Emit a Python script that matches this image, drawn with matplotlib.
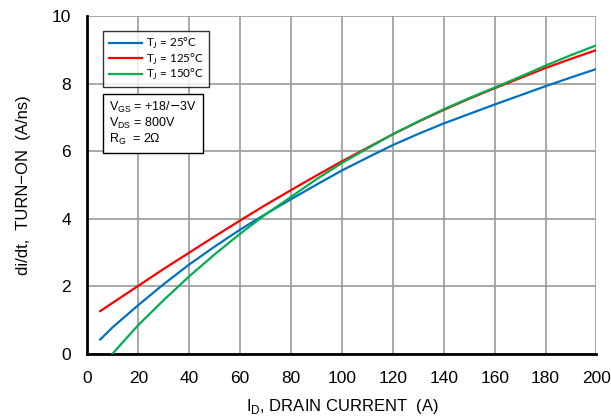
import matplotlib
matplotlib.use("Agg")
import matplotlib.pyplot as plt
from matplotlib.lines import Line2D

plt.rcParams['font.family'] = ['Liberation Sans', 'DejaVu Sans']

x_blue = [5, 10, 20, 30, 40, 50, 60, 70, 80, 90, 100, 110, 120, 130, 140, 150, 160, 170, 180, 190, 200]
y_blue = [0.43, 0.80, 1.45, 2.07, 2.65, 3.18, 3.68, 4.14, 4.58, 5.01, 5.43, 5.81, 6.18, 6.51, 6.82, 7.10, 7.38, 7.65, 7.92, 8.18, 8.43]

x_red = [5, 10, 20, 30, 40, 50, 60, 70, 80, 90, 100, 110, 120, 130, 140, 150, 160, 170, 180, 190, 200]
y_red = [1.27, 1.52, 2.02, 2.52, 3.00, 3.48, 3.95, 4.41, 4.85, 5.28, 5.70, 6.10, 6.50, 6.87, 7.22, 7.55, 7.86, 8.16, 8.46, 8.73, 8.99]

x_green = [9.7, 20, 30, 40, 50, 60, 70, 80, 90, 100, 110, 120, 130, 140, 150, 160, 170, 180, 190, 200]
y_green = [0.0, 0.86, 1.60, 2.30, 2.95, 3.56, 4.13, 4.65, 5.17, 5.65, 6.08, 6.50, 6.88, 7.24, 7.57, 7.88, 8.20, 8.53, 8.84, 9.13]

labels = ["T$_\\mathregular{J}$ = 25°C", "T$_\\mathregular{J}$ = 125°C", "T$_\\mathregular{J}$ = 150°C"]
colors = ["#0070C0", "#FF0000", "#00B050"]
xticks = [0, 20, 40, 60, 80, 100, 120, 140, 160, 180, 200]
yticks = [0, 2, 4, 6, 8, 10]

fig = plt.figure(figsize=(6.11, 4.18), dpi=100)
ax = fig.add_axes([0.1432, 0.153, 0.833, 0.809])

ax.plot(x_blue, y_blue, color=colors[0], lw=1.6, zorder=3)
ax.plot(x_red, y_red, color=colors[1], lw=1.6, zorder=3)
ax.plot(x_green, y_green, color=colors[2], lw=1.6, zorder=4)

ax.set_xlim(0, 200)
ax.set_ylim(0, 10)
ax.set_xticks(xticks)
ax.set_yticks(yticks)
ax.grid(True, color="#9a9a9a", lw=1.2)
ax.set_axisbelow(True)
for s in ["top", "right"]:
    ax.spines[s].set_visible(False)
for s in ["left", "bottom"]:
    ax.spines[s].set_linewidth(2)
    ax.spines[s].set_color("black")
ax.tick_params(length=0, labelsize=12.5, pad=12)
ax.set_xlabel("I$_\\mathregular{D}$, DRAIN CURRENT  (A)", fontsize=12, labelpad=8)
ax.set_ylabel("di/dt,  TURN\u2212ON  (A/ns)", fontsize=12, labelpad=15)

handles = [Line2D([0], [0], color=c, lw=1.6) for c in colors]
leg = ax.legend(handles, labels, loc="upper left", bbox_to_anchor=(0.031, 0.956),
                borderaxespad=0, frameon=True, fancybox=False, edgecolor="black",
                handlelength=2.9, handletextpad=0.3, borderpad=0.45, labelspacing=0.04,
                prop={'family': ['Lato', 'DejaVu Sans'], 'size': 8.4})
leg.get_frame().set_linewidth(1.0)

ax.text(0.042, 0.752,
        "V$_\\mathregular{GS}$ = +18/$-$3V\nV$_\\mathregular{DS}$ = 800V\nR$_\\mathregular{G}$  = 2\u03a9",
        transform=ax.transAxes, fontsize=9, va="top", ha="left", linespacing=1.1,
        bbox=dict(boxstyle="square,pad=0.45", facecolor="white", edgecolor="black", lw=1.0),
        zorder=6)

fig.savefig("out.png", dpi=100)
